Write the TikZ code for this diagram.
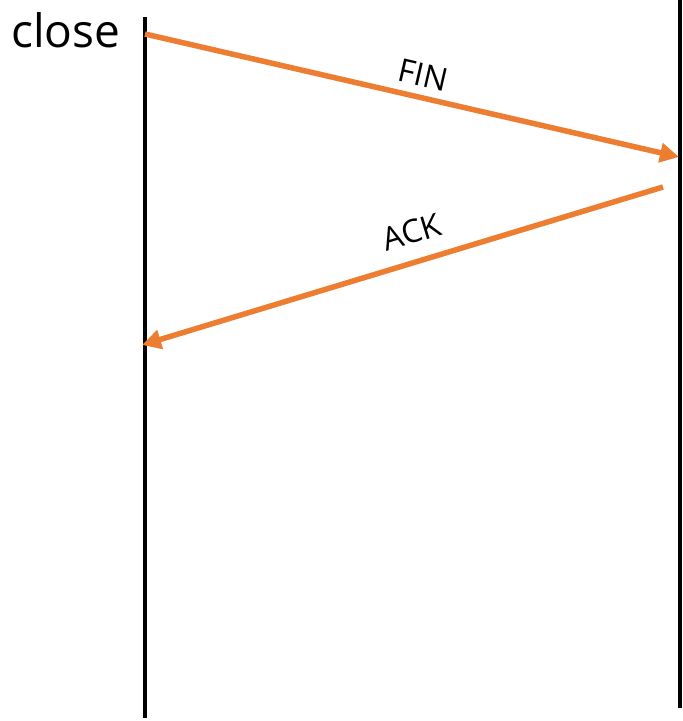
\documentclass[tikz,border=0pt]{standalone}
\usepackage{fontspec}
\setmainfont{Open Sans}
\usetikzlibrary{arrows.meta}
\definecolor{tcpOrange}{HTML}{ED7D31}
\tikzset{
  tcp line/.style={draw=black, line width=3.8pt},
  tcp msg/.style={draw=tcpOrange, line width=5.5pt, -{Triangle[length=19pt,width=19pt]}},
  tcp label/.style={font=\fontsize{32}{32}\selectfont, text=black},
  tcp side label/.style={font=\fontsize{46}{46}\selectfont, text=black},
}
\begin{document}
\begin{tikzpicture}[x=1pt,y=-1pt]
  \useasboundingbox (0,0) rectangle (683,721);
  % time lines of both ends
  \coordinate (clientTop) at (145,17);
  \coordinate (clientBot) at (145,718);
  \coordinate (serverTop) at (680,0);
  \coordinate (serverBot) at (680,708);
  \draw[tcp line] (clientTop) -- (clientBot);
  \draw[tcp line] (serverTop) -- (serverBot);
  % call on the left side
  \node[tcp side label] (close) at (66,30) {close};
  % segments
  \coordinate (finStart) at (145,34);
  \coordinate (finEnd) at (679,157);
  \coordinate (ackStart) at (663,187);
  \coordinate (ackEnd) at (142,345);
  \draw[tcp msg] (finStart) -- node[tcp label, sloped, above=5pt, pos=0.512] (fin) {FIN} (finEnd);
  \draw[tcp msg] (ackStart) -- node[tcp label, sloped, above=12pt, pos=0.466] (ack) {ACK} (ackEnd);
\end{tikzpicture}
\end{document}
